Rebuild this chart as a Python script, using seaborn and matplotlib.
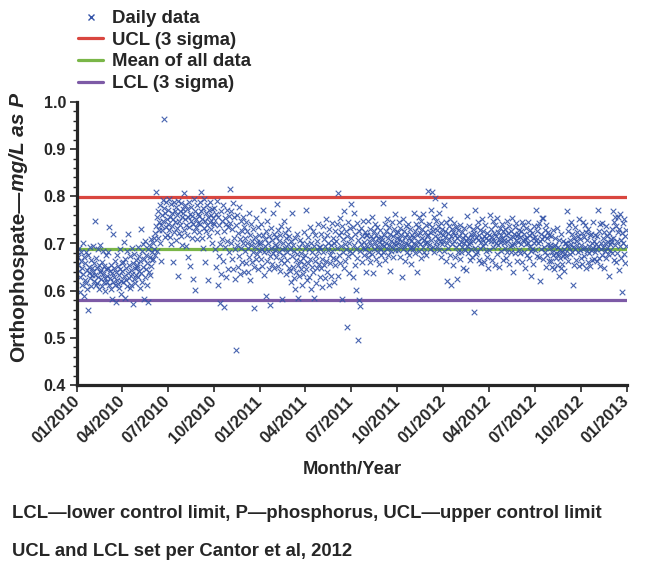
import matplotlib
matplotlib.use("Agg")
import numpy as np
import pandas as pd
import seaborn as sns
import matplotlib.pyplot as plt
from matplotlib.lines import Line2D
from matplotlib.ticker import MultipleLocator, FormatStrFormatter

# Daily orthophosphate readings (mg/L as P, in thousandths), one string per month
MONTHS_2010 = [
    "684 672 655 690 641 628 597 663 681 612 648 635 700 671 589 623 659 682 617 644 604 560 676 638 651 693 626 666 609 647 633",
    "695 642 621 658 747 633 612 670 649 617 688 628 603 655 639 697 624 644 661 609 636 684 619 652 627 600 646 675",
    "631 618 682 647 612 735 626 641 604 655 637 583 619 720 648 628 611 663 576 639 622 675 615 652 606 633 645 688 621 592 658",
    "642 660 618 703 631 585 667 649 622 684 610 638 721 654 627 605 673 644 612 690 636 659 571 625 678 647 617 664 633 651",
    "655 628 692 641 673 605 662 730 637 684 619 650 698 582 667 629 705 646 676 613 659 688 575 640 696 671 634 710 652 683 664",
    "668 701 689 712 676 723 810 738 684 756 712 768 729 745 702 781 739 662 760 728 793 748 963 775 713 764 736 789 752 718",
    "742 771 728 795 756 713 783 699 764 737 752 661 789 724 768 745 777 708 733 760 631 791 748 722 769 740 785 715 757 696 774",
    "765 729 808 751 782 694 740 773 718 756 672 789 735 763 652 747 778 712 759 625 741 795 727 768 602 753 736 781 709 762 744",
    "758 724 787 741 809 769 712 752 690 776 733 795 748 661 764 727 782 739 757 623 771 716 745 788 730 760 701 774 743 755",
    "776 742 688 763 651 790 725 612 757 674 739 699 574 768 636 748 710 782 662 727 565 755 692 741 628 770 705 646 734 683 759",
    "815 744 702 769 668 731 786 645 712 756 688 625 739 475 697 760 651 722 778 674 709 635 748 690 726 661 757 700 640 734",
    "712 684 745 658 701 727 639 690 765 672 718 623 697 742 661 706 683 731 650 563 714 692 755 668 704 678 736 645 719 687 698",
]
MONTHS_2011 = [
    "703 667 741 688 652 719 770 681 634 710 695 588 726 662 747 684 701 645 716 673 570 732 690 657 708 679 764 649 721 686 697",
    "714 672 783 695 653 728 681 706 642 719 664 737 688 582 701 676 747 659 722 690 635 711 683 666 730 698 647 715",
    "688 642 705 618 673 765 651 697 627 684 712 603 666 639 720 677 585 654 693 631 708 662 645 679 612 700 636 670 725 657 691",
    "676 645 770 698 622 713 659 688 630 735 667 604 702 651 681 727 639 694 585 662 717 673 616 705 648 684 742 656 693 628",
    "693 648 721 667 607 738 681 655 709 626 694 752 663 717 640 686 702 613 730 675 658 697 631 744 685 669 712 619 700 654 726",
    "705 668 742 690 631 808 717 676 754 659 724 694 583 738 681 710 647 769 699 662 727 689 524 715 673 746 638 701 684 733",
    "712 783 680 736 628 697 765 655 721 602 689 744 670 496 708 580 727 685 567 699 733 661 715 691 748 676 704 725 688 640 719",
    "694 718 671 748 705 683 731 660 716 697 757 678 709 637 726 688 742 701 667 719 693 735 681 712 656 703 729 690 714 676 699",
    "708 682 786 719 695 741 664 727 700 688 753 712 676 735 697 641 721 706 684 746 693 715 671 730 702 762 687 723 696 711",
    "701 724 686 745 709 672 733 697 718 630 706 752 689 727 695 714 663 738 702 681 721 699 742 676 712 690 730 657 705 719 693",
    "713 688 765 702 726 679 741 697 719 640 734 706 757 685 722 698 748 669 711 730 692 762 707 681 725 700 739 676 716 704",
    "718 811 697 742 724 689 771 708 735 810 693 727 756 682 716 797 703 748 729 694 738 712 765 686 722 705 744 671 731 699 719",
]
MONTHS_2012 = [
    "706 781 684 727 714 663 745 701 620 722 690 738 709 676 752 715 612 699 731 655 724 706 743 671 718 692 735 625 711 683 729",
    "698 716 668 740 703 681 725 692 711 648 733 701 686 719 644 707 695 758 680 712 699 737 665 704 721 689 714 672 730",
    "705 722 554 690 772 713 678 736 682 707 745 665 718 691 729 703 658 753 710 694 726 660 715 700 739 684 712 671 722 649 708",
    "718 687 761 705 730 664 713 748 692 722 706 655 739 701 715 678 755 697 724 709 650 733 703 718 684 742 711 666 727 700",
    "707 731 690 718 669 748 683 722 705 656 737 712 694 726 682 755 697 714 640 721 698 734 679 707 743 715 662 720 703 729 686",
    "714 679 726 698 745 661 739 707 683 720 648 710 698 733 676 712 702 745 669 717 694 729 685 632 722 688 711 657 738 701",
    "713 686 772 708 674 727 701 738 672 743 706 620 721 689 755 710 667 754 692 716 683 729 651 740 675 712 699 724 662 718 696",
    "690 662 715 683 651 728 676 694 645 697 712 669 680 733 654 692 677 631 708 670 686 648 721 681 657 705 674 689 642 700 679",
    "702 674 768 695 726 662 739 690 707 678 745 698 683 720 611 693 712 655 736 688 705 666 724 697 681 715 652 752 687 709",
    "696 670 722 657 745 689 713 674 740 692 648 725 685 708 661 730 694 679 718 653 720 687 701 666 745 690 705 668 717 683 699",
    "688 715 662 772 694 726 670 741 653 700 689 743 676 711 693 648 725 684 702 669 737 691 715 678 704 632 722 687 698 710",
    "703 731 680 768 712 664 745 697 756 661 738 706 679 757 725 643 730 694 762 708 670 722 598 743 701 677 753 659 716 694 728",
]

UCL = 0.798
MEAN = 0.689
LCL = 0.580

LEGEND_LABELS = ["Daily data", "UCL (3 sigma)", "Mean of all data", "LCL (3 sigma)"]
TICK_DATES = ["2010-01-01", "2010-04-01", "2010-07-01", "2010-10-01", "2011-01-01",
              "2011-04-01", "2011-07-01", "2011-10-01", "2012-01-01", "2012-04-01",
              "2012-07-01", "2012-10-01", "2013-01-01"]
FOOTNOTES = ["LCL\u2014lower control limit, P\u2014phosphorus, UCL\u2014upper control limit",
             "UCL and LCL set per Cantor et al, 2012"]

BLUE = "#3554a8"
RED = "#d9463f"
GREEN = "#7ab648"
PURPLE = "#7d5aa6"

# Assemble the daily series
rows = []
for year, months in ((2010, MONTHS_2010), (2011, MONTHS_2011), (2012, MONTHS_2012)):
    for m, s in enumerate(months, start=1):
        vals = [int(v) / 1000 for v in s.split()]
        start = pd.Timestamp(year, m, 1)
        ndays = start.days_in_month
        offs = np.arange(len(vals)) * ndays / len(vals)
        for o, v in zip(offs, vals):
            rows.append((start + pd.Timedelta(days=float(o)), v))
df = pd.DataFrame(rows, columns=["date", "value"])

sns.set_style("ticks")
plt.rcParams["font.family"] = ["Liberation Sans", "DejaVu Sans"]
plt.rcParams["font.weight"] = "bold"

W, H = 652, 566
fig = plt.figure(figsize=(W / 100, H / 100), dpi=100)
ax = fig.add_axes([77 / W, 1 - 385 / H, 550 / W, 283 / H])

ax.axhline(UCL, color=RED, lw=2.3, zorder=1)
ax.axhline(MEAN, color=GREEN, lw=2.3, zorder=1)
ax.axhline(LCL, color=PURPLE, lw=2.3, zorder=1)

sns.scatterplot(data=df, x="date", y="value", marker="x", color=BLUE,
                s=16, linewidth=0.8, alpha=0.9, ax=ax, zorder=2, legend=False)

ax.set_xlim(pd.Timestamp("2010-01-01"), pd.Timestamp("2013-01-01"))
ax.set_ylim(0.4, 1.0)
ax.yaxis.set_major_locator(MultipleLocator(0.1))
ax.yaxis.set_minor_locator(MultipleLocator(0.02))
ax.yaxis.set_major_formatter(FormatStrFormatter("%.1f"))

ticks = pd.to_datetime(TICK_DATES)
ax.set_xticks(ticks)
ax.set_xticklabels([t.strftime("%m/%Y") for t in ticks], rotation=45,
                   ha="right", va="center", rotation_mode="anchor",
                   fontsize=12, fontweight="bold")
for lab in ax.get_yticklabels():
    lab.set_fontsize(11.5)
    lab.set_fontweight("bold")

for side in ("top", "right"):
    ax.spines[side].set_visible(False)
for side in ("left", "bottom"):
    ax.spines[side].set_linewidth(2.3)
ax.tick_params(axis="both", which="major", direction="out", length=5, width=1.2, pad=3)
ax.tick_params(axis="y", which="minor", direction="out", length=3, width=1.0)
ax.tick_params(axis="x", which="major", pad=5)
ax.set_xlabel("")
ax.set_ylabel("")

fig.text(352 / W, 1 - 469 / H, "Month/Year", ha="center", va="center",
         fontsize=13.2, fontweight="bold")

# Y-axis title in two styles: plain part then italic units
t1 = fig.text(19 / W, 1 - 362 / H, "Orthophospate\u2014", rotation=90,
              ha="center", va="bottom", fontsize=15, fontweight="bold")
fig.canvas.draw()
bb = t1.get_window_extent(renderer=fig.canvas.get_renderer())
fig.text(19 / W, bb.y1 / H, "mg/L as P", rotation=90, ha="center", va="bottom",
         fontsize=15, fontweight="bold", fontstyle="italic")

for i, note in enumerate(FOOTNOTES):
    fig.text(12 / W, 1 - (513 + 38 * i) / H, note, ha="left", va="center",
             fontsize=13.3, fontweight="bold")

handles = [
    Line2D([], [], marker="x", ls="", color=BLUE, markersize=4.5, markeredgewidth=1.0),
    Line2D([], [], color=RED, lw=2.3),
    Line2D([], [], color=GREEN, lw=2.3),
    Line2D([], [], color=PURPLE, lw=2.3),
]
fig.legend(handles, LEGEND_LABELS, loc="upper left", bbox_to_anchor=(78 / W, 1 - 10 / H),
           frameon=False, prop={"size": 13.4, "weight": "bold"}, handlelength=1.35,
           handletextpad=0.5, labelspacing=0.25, borderaxespad=0, borderpad=0)

fig.savefig("out.png", dpi=100)
